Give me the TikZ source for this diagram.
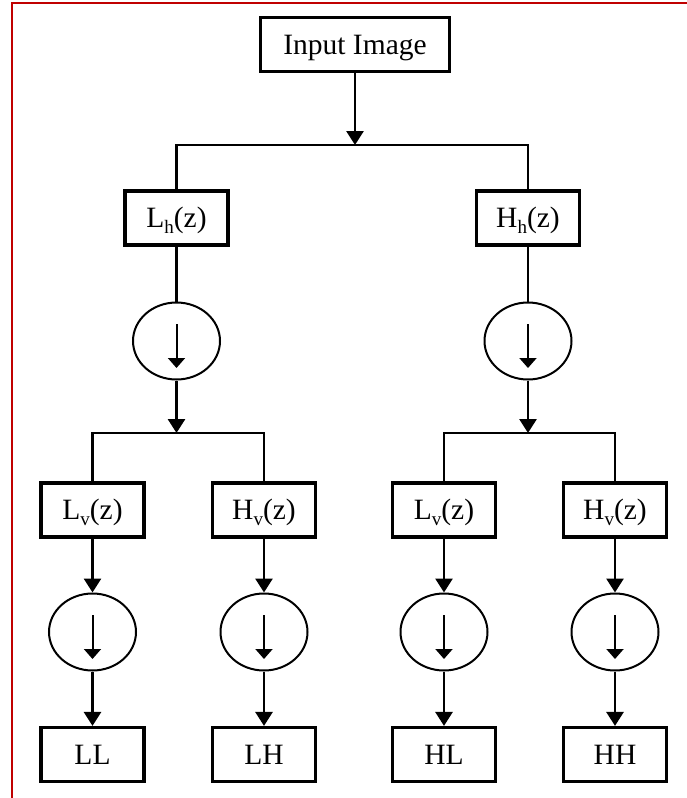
\documentclass[tikz,border=0pt]{standalone}
\usepackage{fontspec}
\setmainfont{Liberation Serif}
\usetikzlibrary{arrows.meta,shapes.geometric}
\definecolor{framered}{RGB}{192,0,0}

% subscript set low and small, as in L_h(z)
\newcommand{\lowsub}[1]{\raisebox{-0.45ex}{\fontsize{19}{19}\selectfont #1}}

\begin{document}
\begin{tikzpicture}[x=1pt,y=-1pt,
  box/.style={draw,line width=3.2pt,minimum width=103pt,minimum height=54pt,
    inner sep=0pt,text height=22pt,text depth=3pt,
    font=\fontsize{29.5}{32}\selectfont},
  bigbox/.style={box,minimum width=189pt},
  down/.style={draw,shape=ellipse,line width=2pt,minimum width=87pt,
    minimum height=77pt,inner sep=0pt},
  wire/.style={line width=2.8pt},
  feed/.style={wire,-{Triangle[length=14pt,width=17pt]}},
  inner/.style={line width=2pt,-{Triangle[length=10pt,width=17pt]}}]

\useasboundingbox (0,0) rectangle (687,798);

% page frame
\draw[framered,line width=2.2pt] (12,798) -- (12,3) -- (687,3);

% nodes
\node[bigbox] (in) at (355,44.5) {Input Image};

\node[box] (lh) at (176.5,218) {L\lowsub{h}(z)};
\node[box] (hh) at (528,218) {H\lowsub{h}(z)};

\node[down] (dl) at (176.5,341) {};
\node[down] (dh) at (528,341) {};

\node[box] (llv) at (92.5,510) {L\lowsub{v}(z)};
\node[box] (lhv) at (264,510) {H\lowsub{v}(z)};
\node[box] (hlv) at (444,510) {L\lowsub{v}(z)};
\node[box] (hhv) at (615,510) {H\lowsub{v}(z)};

\node[down] (dll) at (92.5,632) {};
\node[down] (dlh) at (264,632) {};
\node[down] (dhl) at (444,632) {};
\node[down] (dhh) at (615,632) {};

\node[box] (ll) at (92.5,754.5) {LL};
\node[box] (lhout) at (264,754.5) {LH};
\node[box] (hl) at (444,754.5) {HL};
\node[box] (hhout) at (615,754.5) {HH};

% branch points
\coordinate (j0) at (355,145);
\coordinate (j1) at (176.5,433);
\coordinate (j2) at (528,433);

% arrows drawn inside the downsampling circles
\foreach \c in {dl,dh,dll,dlh,dhl,dhh}
  \draw[inner] (\c.center) ++(0,-17) -- ++(0,44);

% first split
\draw[feed] (in.south) -- (j0);
\draw[wire] (lh.north) |- (j0) -| (hh.north);
\draw[wire] (lh.south) -- (dl.north);
\draw[wire] (hh.south) -- (dh.north);
\draw[feed] (dl.south) -- (j1);
\draw[feed] (dh.south) -- (j2);

% second split
\draw[wire] (llv.north) |- (j1) -| (lhv.north);
\draw[wire] (hlv.north) |- (j2) -| (hhv.north);

\foreach \a/\b/\c in {llv/dll/ll, lhv/dlh/lhout, hlv/dhl/hl, hhv/dhh/hhout}{
  \draw[feed] (\a.south) -- (\b.north);
  \draw[feed] (\b.south) -- (\c.north);
}
\end{tikzpicture}
\end{document}
